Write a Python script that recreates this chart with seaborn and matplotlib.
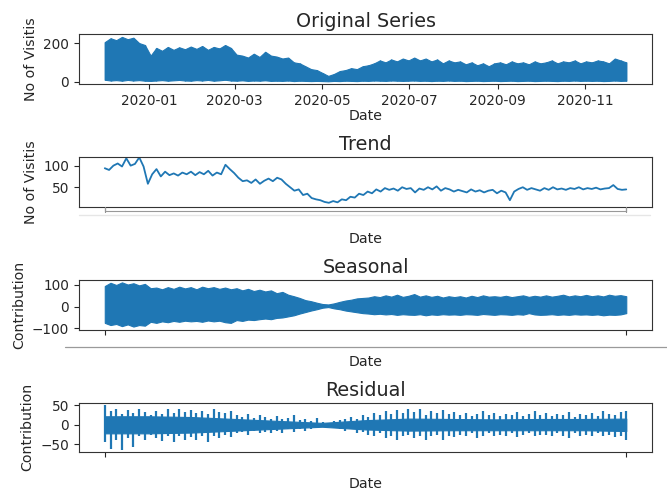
import numpy as np
import pandas as pd
import matplotlib.pyplot as plt
import matplotlib.dates as mdates
from matplotlib.lines import Line2D
import seaborn as sns

# envelope readings (every ~4 days) for the dense hourly components
band_dates = pd.date_range("2019-12-01", "2020-11-30", periods=92)
orig_upper = [205, 225, 215, 232, 220, 228, 200, 190, 135,
              175, 160, 180, 165, 178, 168, 182,
              170, 185, 165, 180, 172, 190, 175,
              140, 135, 125, 145, 128, 155, 135,
              130, 120, 125, 100, 95, 80, 65, 60,
              45, 30, 40, 55, 60, 70, 65, 80,
              85, 95, 110, 100, 115, 105, 120, 110,
              125, 110, 120, 105, 115, 95, 110, 100,
              105, 90, 100, 85, 95, 80, 95, 100,
              90, 105, 95, 100, 90, 105, 95,
              100, 110, 95, 105, 100, 110, 95, 105,
              100, 110, 105, 95, 120, 110, 100]
orig_lower = [10, 6, 8, 5, 9, 6, 8, 5, 4,
              6, 8, 5, 7, 9, 6, 5,
              8, 6, 9, 5, 7, 10, 6,
              5, 7, 4, 6, 5, 7, 4,
              5, 4, 6, 3, 5, 4, 3, 4,
              3, 2, 4, 3, 5, 4, 3, 5,
              4, 6, 5, 4, 6, 5, 4, 5,
              6, 4, 5, 3, 5, 4, 6, 4,
              5, 3, 4, 5, 3, 4, 5, 3,
              4, 5, 3, 4, 5, 3, 4,
              5, 4, 3, 5, 4, 6, 4, 5,
              4, 5, 3, 4, 6, 4, 5]
seas_upper = [95, 110, 100, 112, 102, 108, 98, 105, 85,
              88, 80, 90, 82, 92, 84, 90,
              80, 92, 85, 90, 82, 88, 80,
              85, 75, 82, 72, 78, 70, 75,
              62, 68, 55, 48, 40, 30, 25, 18,
              12, 10, 15, 22, 28, 32, 38, 40,
              42, 48, 44, 52, 46, 55, 45, 50,
              58, 46, 52, 45, 50, 42, 48, 44,
              48, 42, 50, 44, 52, 46, 48, 45,
              50, 44, 48, 52, 45, 50, 46,
              52, 46, 50, 55, 47, 52, 48, 54,
              48, 52, 47, 55, 50, 53, 48]
seas_lower = [-75, -85, -80, -90, -82, -92, -85, -88, -70,
              -75, -68, -72, -66, -70, -65, -68,
              -66, -70, -64, -68, -65, -72, -75,
              -62, -66, -60, -62, -58, -55, -58,
              -52, -50, -45, -40, -32, -25, -18, -12,
              -5, -2, -8, -12, -18, -22, -26, -30,
              -32, -35, -33, -36, -34, -38, -35, -37,
              -38, -35, -40, -36, -38, -35, -37, -36,
              -38, -35, -36, -38, -34, -36, -38, -35,
              -36, -38, -35, -37, -30, -36, -38,
              -37, -35, -38, -36, -38, -35, -37, -36,
              -38, -36, -40, -37, -38, -36, -30]
resid_upper = [50, 35, 40, 28, 38, 30, 42, 32, 25,
               35, 28, 40, 30, 42, 32, 38,
               30, 36, 28, 40, 32, 30, 35,
               25, 20, 28, 18, 24, 20, 15,
               22, 15, 18, 25, 12, 15, 10, 18,
               8, 5, 10, 12, 15, 20, 15, 25,
               20, 30, 25, 35, 28, 38, 30, 42,
               32, 40, 25, 35, 30, 38, 28, 32,
               25, 30, 22, 28, 35, 25, 30, 22,
               28, 25, 32, 22, 28, 35, 25,
               30, 22, 28, 25, 32, 20, 28, 25,
               30, 22, 35, 28, 25, 32, 35]
resid_lower = [-45, -62, -40, -64, -35, -58, -30, -40, -25,
               -35, -42, -28, -45, -30, -38, -32,
               -40, -28, -45, -30, -35, -25, -32,
               -22, -18, -25, -15, -20, -18, -22,
               -15, -20, -12, -18, -10, -15, -12, -8,
               -6, -5, -8, -10, -15, -12, -20, -18,
               -25, -30, -22, -35, -28, -40, -30, -25,
               -35, -28, -40, -30, -25, -38, -28, -32,
               -25, -30, -22, -35, -28, -20, -30, -25,
               -28, -22, -32, -25, -20, -30, -25,
               -25, -30, -22, -28, -35, -22, -30, -25,
               -28, -22, -30, -25, -32, -28, -38]
# dense core of the residual (monthly readings)
core_dates = pd.date_range("2019-12-01", "2020-11-30", periods=13)
resid_core_upper = [22, 22, 20, 15, 10, 5, 12, 16, 15, 14, 15, 15, 16]
resid_core_lower = [-22, -22, -20, -15, -10, -5, -12, -15, -14, -14, -14, -14, -16]

# trend readings (every ~3 days)
trend_dates = pd.date_range("2019-12-01", "2020-11-30", periods=122)
trend = [94, 90, 100, 105, 98, 117, 100, 104, 119, 98,
         58,
         80, 92, 75, 86, 78, 82, 77, 84, 80, 86,
         78, 85, 80, 88, 77, 84, 80, 102, 92,
         83, 72, 64, 66, 60, 68, 58, 65, 70, 64,
         72, 68, 58, 50, 42, 45, 32, 35, 25, 22,
         20, 16, 14, 18, 15, 22, 20, 28, 26, 35,
         32, 40, 36, 45, 40, 48, 44, 47, 42, 50,
         46, 48, 38, 47, 44, 50, 45, 52, 42, 48,
         45, 40, 44, 41, 38, 45, 40, 43, 38, 42,
         44, 36, 42, 38, 20, 40, 46, 50, 44, 48,
         45, 42, 48, 44, 50, 45, 47, 44, 48, 46,
         50, 45, 48, 46, 49, 45, 47, 48, 55, 46, 44, 45]

blue = "#1f77b4"
sns.set_style("ticks")
plt.rcParams["font.family"] = ["DejaVu Sans"]

fig = plt.figure(figsize=(6.67, 4.9), dpi=100)
left, width = 0.118, 0.860
bottoms = [0.8286, 0.5782, 0.3265, 0.0776]
heights = [0.1020, 0.1014, 0.1021, 0.1006]
axes = [fig.add_axes([left, b, width, h]) for b, h in zip(bottoms, heights)]

ax1, ax2, ax3, ax4 = axes
ax1.fill_between(band_dates, orig_lower, orig_upper, color=blue, lw=0.8)
ax1.vlines(band_dates, orig_lower, orig_upper, color=blue, lw=1.0)
sns.lineplot(x=trend_dates, y=trend, ax=ax2, color=blue, lw=1.3)
ax3.fill_between(band_dates, seas_lower, seas_upper, color=blue, lw=0.8)
ax4.fill_between(core_dates, resid_core_lower, resid_core_upper, color=blue, lw=0.8)
ax4.vlines(band_dates, resid_lower, resid_upper, color=blue, lw=1.6)

titles = ["Original Series", "Trend", "Seasonal", "Residual"]
ylabels = ["No of Visitis", "No of Visitis", "Contribution", "Contribution"]
yticks = [[0, 200], [50, 100], [-100, 0, 100], [-50, 0, 50]]
for ax, t, yl, yt in zip(axes, titles, ylabels, yticks):
    ax.set_title(t, fontsize=13.8, pad=5)
    ax.set_ylabel(yl, fontsize=10.2)
    ax.set_xlabel("Date", fontsize=10.2)
    ax.set_yticks(yt)
    ax.tick_params(labelsize=9.8, length=3.5)
    for s in ax.spines.values():
        s.set_color("#333333")
        s.set_linewidth(0.8)

ax1.set_ylim(-12, 247)
ax2.set_ylim(5, 120)
ax3.set_ylim(-108, 123)
ax4.set_ylim(-70, 57)

ax1.xaxis.set_major_locator(mdates.MonthLocator(bymonth=[1, 3, 5, 7, 9, 11]))
ax1.xaxis.set_major_formatter(mdates.DateFormatter("%Y-%m"))
for ax in axes[1:]:
    ax.set_xticks([band_dates[0], band_dates[-1]])
    ax.set_xticklabels(["", ""])
for ax in axes:
    ax.xaxis.set_label_coords(0.5, -0.5)

# faint screenshot edges seen under the trend and seasonal panels
fig.add_artist(Line2D([0.157, 0.157, 0.939, 0.939], [0.578, 0.569, 0.569, 0.578],
                      color="#999999", lw=0.8))
fig.add_artist(Line2D([0.118, 0.975], [0.561, 0.561], color="#e6e6e6", lw=1.0))
fig.add_artist(Line2D([0.097, 1.0], [0.292, 0.292], color="#9a9a9a", lw=0.9))

fig.savefig("out.png", dpi=100)
